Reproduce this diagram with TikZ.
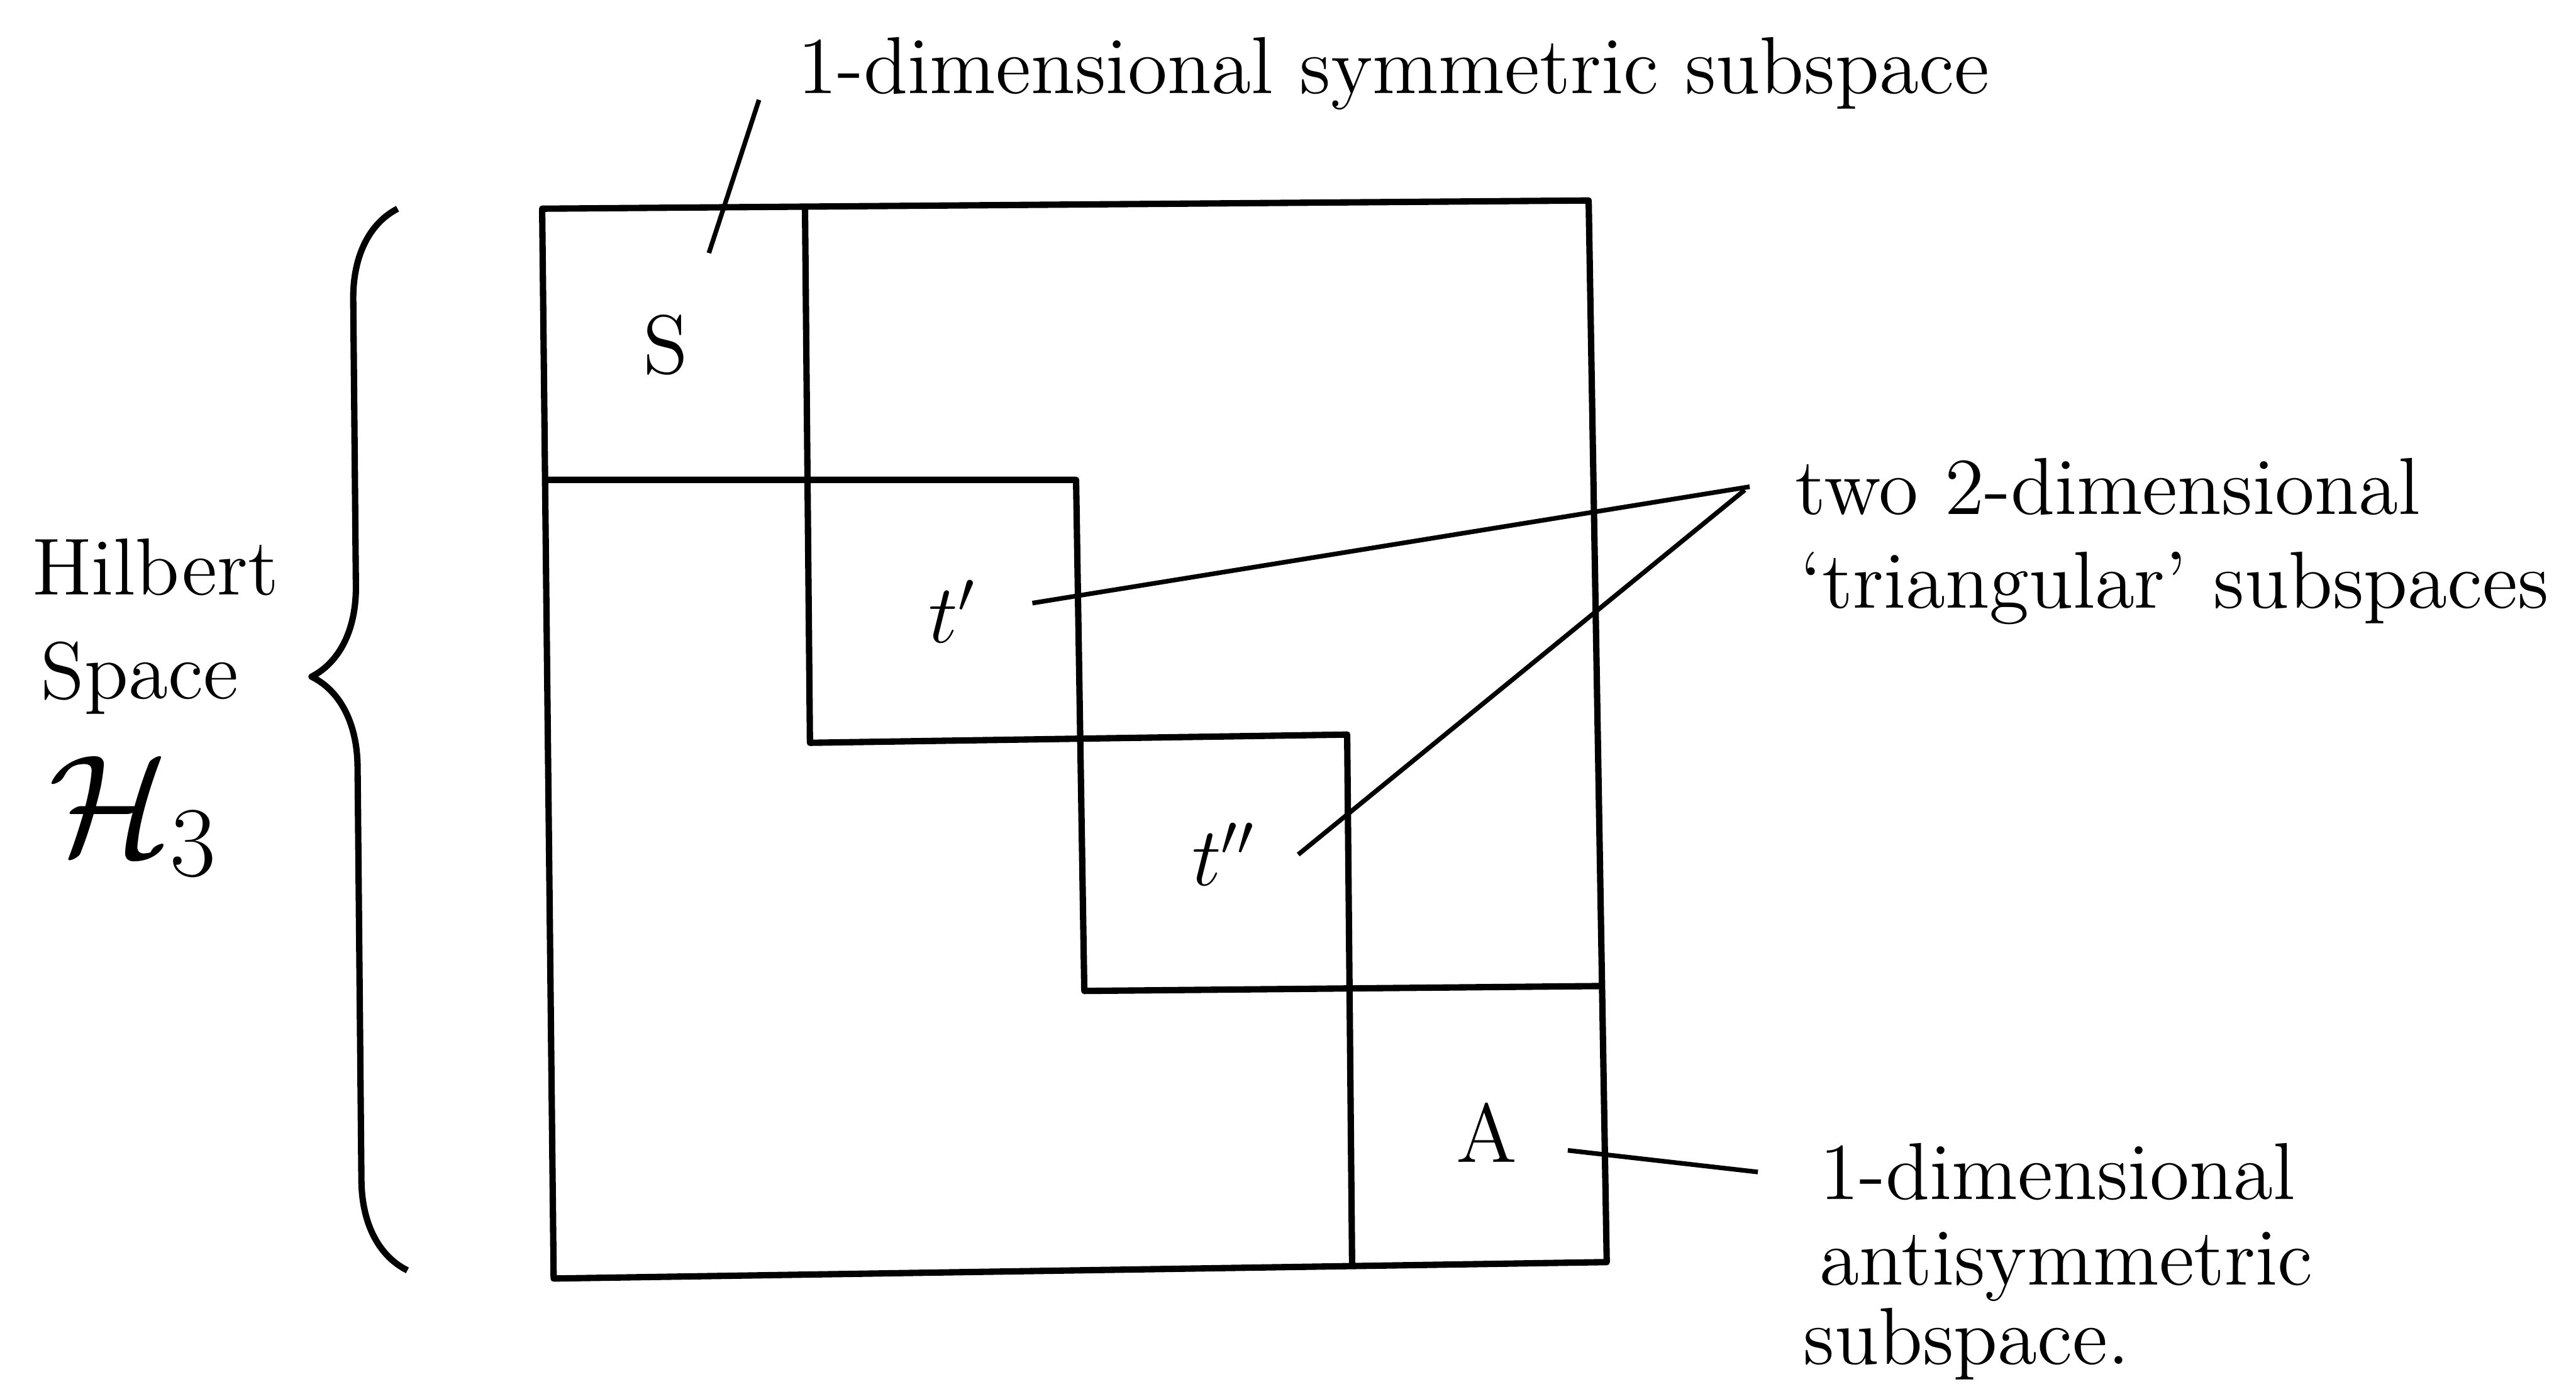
\documentclass[tikz,border=0pt]{standalone}
\usetikzlibrary{calc,decorations.pathreplacing}

\begin{document}
\begin{tikzpicture}[
  font=\fontsize{14}{17}\selectfont,
  frame/.style={line width=1.1pt, line join=round},
  lead/.style={line width=0.8pt},
  lbl/.style={inner sep=2pt},
  note/.style={inner sep=2pt, anchor=base west}
]
\useasboundingbox (0,0) rectangle (15.68,8.42);

\draw[frame] (3.30,7.15) -- (9.67,7.20) -- (9.78,0.74) -- (3.37,0.64) -- cycle;
\draw[frame] (4.90,7.15) -- (4.93,3.90) -- (8.20,3.95) -- (8.23,0.73);
\draw[frame] (3.32,5.50) -- (6.55,5.50) -- (6.60,2.39) -- (9.76,2.42);

\node[lbl] (S) at (4.05,6.32) {$\mathrm{S}$};
\node[lbl] (tp) at (5.80,4.70) {$t'$};
\node[lbl] (tpp) at (7.45,3.22) {$t''$};
\node[lbl] (A) at (9.05,1.52) {$\mathrm{A}$};

\node[note] (sym) at (4.78,7.85) {1-dimensional symmetric subspace};
\node[note] (tri1) at (10.85,5.29) {two 2-dimensional};
\node[note] (tri2) at (10.88,4.72) {`triangular' subspaces};
\node[note] (anti1) at (11.00,1.12) {1-dimensional};
\node[note] (anti2) at (11.00,0.60) {antisymmetric};
\node[note] (anti3) at (10.90,0.12) {subspace.};

\node[note] (hil) at (0.12,4.80) {Hilbert};
\node[note] (spc) at (0.17,4.17) {Space};
\node[note, font=\fontsize{24}{28}\selectfont] (hsp) at (0.22,3.22) {$\mathcal{H}_3$};

\coordinate (brb) at (2.48,0.69);
\coordinate (brt) at (2.42,7.15);
\draw[frame, decorate, decoration={brace, amplitude=0.55cm, aspect=0.56}] (brb) -- (brt);

\draw[lead] ($(S.north east)+(0.05,0.31)$) -- ($(sym.south west)+(-0.16,0.14)$);
\draw[lead] ($(tp.east)+(0.26,0.05)$) -- ($(tri1.west)+(-0.20,0)$);
\draw[lead] ($(tpp.east)+(0.18,0)$) -- ($(tri1.west)+(-0.23,-0.02)$);
\draw[lead] ($(A.east)+(0.23,-0.10)$) -- ($(anti1.west)+(-0.30,0)$);
\end{tikzpicture}
\end{document}
